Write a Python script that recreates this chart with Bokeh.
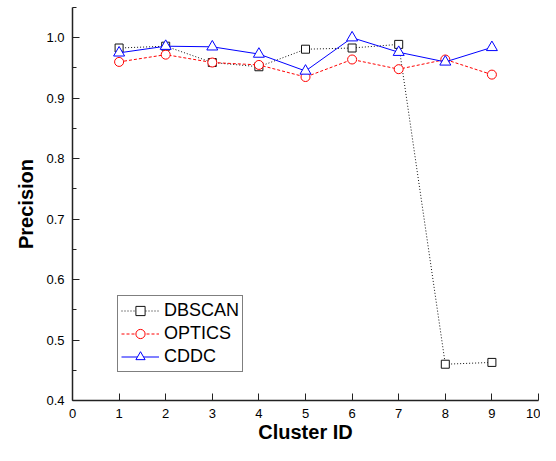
from bokeh.plotting import figure
from bokeh.models import Range1d, FixedTicker, PrintfTickFormatter
from bokeh.embed import file_html
from bokeh.resources import INLINE

# ---- data ----
cluster_ids = [1, 2, 3, 4, 5, 6, 7, 8, 9]
dbscan = [0.983, 0.986, 0.959, 0.952, 0.981, 0.983, 0.989, 0.460, 0.463]
optics = [0.960, 0.972, 0.959, 0.955, 0.935, 0.964, 0.948, 0.964, 0.939]
cddc = [0.975, 0.986, 0.985, 0.973, 0.945, 1.000, 0.976, 0.960, 0.984]

x_ticks = [0, 1, 2, 3, 4, 5, 6, 7, 8, 9, 10]
y_ticks = [0.4, 0.5, 0.6, 0.7, 0.8, 0.9, 1.0]
y_minor_ticks = [0.45, 0.55, 0.65, 0.75, 0.85, 0.95, 1.05]

FONT = "Liberation Sans"

p = figure(width=540, height=445, output_backend="svg", toolbar_location=None,
           x_range=Range1d(0, 10), y_range=Range1d(0.4, 1.05),
           x_axis_label="Cluster ID", y_axis_label="Precision",
           min_border_left=72, min_border_right=2, min_border_top=7,
           min_border_bottom=45)
p.outline_line_color = None
p.xgrid.visible = False
p.ygrid.visible = False
p.background_fill_color = "white"
p.border_fill_color = "white"

# series
p.line(cluster_ids, dbscan, line_color="#111111", line_width=1, line_dash="1 2",
       legend_label="DBSCAN")
p.scatter(cluster_ids, dbscan, marker="square", size=8, line_color="#111111",
          fill_color="white", line_width=1, legend_label="DBSCAN")
p.line(cluster_ids, optics, line_color="#ff0000", line_width=1, line_dash="3 2",
       legend_label="OPTICS")
p.scatter(cluster_ids, optics, marker="circle", size=9, line_color="#ff0000",
          fill_color="white", line_width=1, legend_label="OPTICS")
p.line(cluster_ids, cddc, line_color="#0000ff", line_width=1, legend_label="CDDC")
p.scatter(cluster_ids, cddc, marker="triangle", size=11, line_color="#0000ff",
          fill_color="white", line_width=1, legend_label="CDDC")

# axes
for ax in (p.xaxis[0], p.yaxis[0]):
    ax.axis_line_color = "#222222"
    ax.axis_line_width = 1.5
    ax.major_tick_line_color = "#222222"
    ax.minor_tick_line_color = "#222222"
    ax.major_tick_in = 7
    ax.major_tick_out = 0
    ax.minor_tick_in = 4
    ax.minor_tick_out = 0
    ax.major_label_text_font = FONT
    ax.major_label_text_font_size = "13px"
    ax.major_label_text_color = "black"
    ax.axis_label_text_font = FONT
    ax.axis_label_text_font_style = "bold"
    ax.axis_label_text_font_size = "20px"
    ax.axis_label_text_color = "black"

p.xaxis[0].ticker = FixedTicker(ticks=x_ticks)
p.xaxis[0].major_label_standoff = 8
p.xaxis[0].axis_label_standoff = 0
p.yaxis[0].ticker = FixedTicker(ticks=y_ticks, minor_ticks=y_minor_ticks)
p.yaxis[0].formatter = PrintfTickFormatter(format="%.1f")
p.yaxis[0].major_label_standoff = 8
p.yaxis[0].axis_label_standoff = 6

# legend
lg = p.legend[0]
lg.location = (45, 28)
lg.border_line_color = "black"
lg.border_line_width = 1
lg.background_fill_color = "white"
lg.background_fill_alpha = 1
lg.label_text_font = FONT
lg.label_text_font_size = "18px"
lg.label_text_color = "black"
lg.glyph_width = 38
lg.glyph_height = 23
lg.label_height = 23
lg.label_standoff = 5
lg.padding = 3
lg.spacing = 0
lg.margin = 0

open("out.html", "w").write(file_html(p, INLINE))
